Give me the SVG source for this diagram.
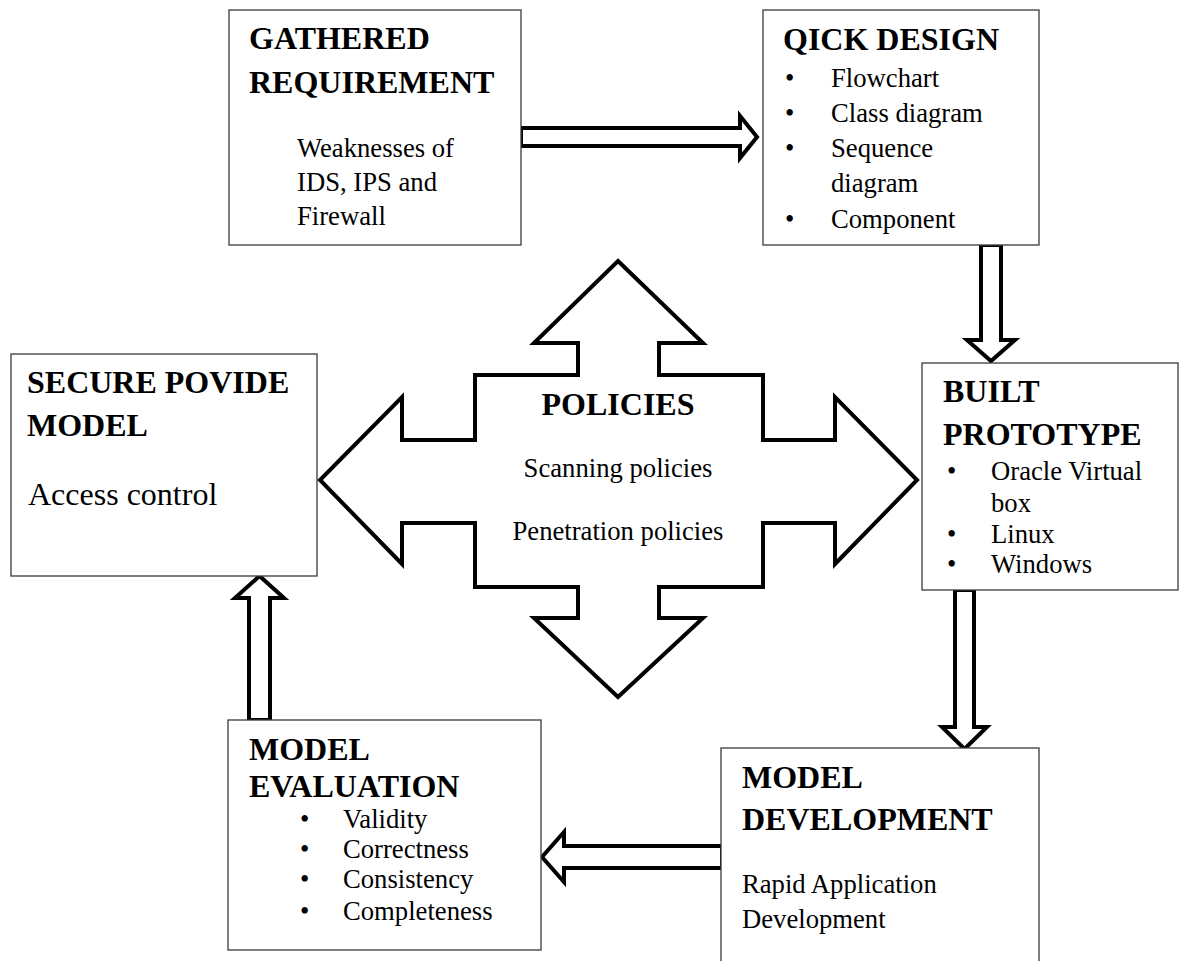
<svg xmlns="http://www.w3.org/2000/svg" width="1184" height="961" viewBox="0 0 1184 961">
<style>
.box{fill:#fff;stroke:#3a3a3a;stroke-width:1.3}
.arr{fill:#fff;stroke:#000;stroke-width:4;stroke-linejoin:miter;stroke-miterlimit:10}
.h{font-family:"Liberation Serif","Times New Roman",serif;font-weight:bold;font-size:32px;fill:#000}
.t{font-family:"Liberation Serif","Times New Roman",serif;font-size:26.67px;fill:#000}
.tl{font-family:"Liberation Serif","Times New Roman",serif;font-size:32px;fill:#000}
.c{text-anchor:middle}
</style>
<rect width="1184" height="961" fill="#fff"/>
<g id="connectors">
<polygon class="arr" points="521,128 740,128 740,116 757,137 740,158 740,146 521,146"/>
<polygon class="arr" points="981,245 1001,245 1001,340 1015,340 991,361 967,340 981,340"/>
<polygon class="arr" points="955,590 974,590 974,727 987,727 964.5,749 942,727 955,727"/>
<polygon class="arr" points="722,846 564,846 564,832 542,857 564,882 564,868 722,868"/>
<polygon class="arr" points="249,720 249,598 235,598 259.5,576 284,598 270,598 270,720"/>
</g>
<g id="gathered">
<rect class="box" x="229" y="10" width="292" height="235"/>
<text class="h" x="249" y="49">GATHERED</text>
<text class="h" x="249" y="93">REQUIREMENT</text>
<text class="t" x="297" y="157">Weaknesses of</text>
<text class="t" x="297" y="191">IDS, IPS and</text>
<text class="t" x="297" y="225">Firewall</text>
</g>
<g id="qick">
<rect class="box" x="763" y="10" width="276" height="235"/>
<text class="h" x="783" y="50">QICK DESIGN</text>
<text class="t" x="785" y="87">•</text><text class="t" x="831" y="87">Flowchart</text>
<text class="t" x="785" y="122">•</text><text class="t" x="831" y="122">Class diagram</text>
<text class="t" x="785" y="157">•</text><text class="t" x="831" y="157">Sequence</text>
<text class="t" x="831" y="192">diagram</text>
<text class="t" x="785" y="228">•</text><text class="t" x="831" y="228">Component</text>
</g>
<g id="built">
<rect class="box" x="922" y="363" width="256" height="227"/>
<text class="h" x="943" y="402">BUILT</text>
<text class="h" x="943" y="445">PROTOTYPE</text>
<text class="t" x="947" y="480">•</text><text class="t" x="991" y="480">Oracle Virtual</text>
<text class="t" x="991" y="512">box</text>
<text class="t" x="947" y="543">•</text><text class="t" x="991" y="543">Linux</text>
<text class="t" x="947" y="573">•</text><text class="t" x="991" y="573">Windows</text>
</g>
<g id="secure">
<rect class="box" x="11" y="354" width="306" height="222"/>
<text class="h" x="27" y="393">SECURE POVIDE</text>
<text class="h" x="27" y="436">MODEL</text>
<text class="tl" x="28" y="505">Access control</text>
</g>
<g id="evaluation">
<rect class="box" x="228" y="720" width="313" height="230"/>
<text class="h" x="249" y="760">MODEL</text>
<text class="h" x="249" y="797">EVALUATION</text>
<text class="t" x="300" y="828">•</text><text class="t" x="343" y="828">Validity</text>
<text class="t" x="300" y="858">•</text><text class="t" x="343" y="858">Correctness</text>
<text class="t" x="300" y="888">•</text><text class="t" x="343" y="888">Consistency</text>
<text class="t" x="300" y="920">•</text><text class="t" x="343" y="920">Completeness</text>
</g>
<g id="development">
<rect class="box" x="721" y="748" width="318" height="230"/>
<text class="h" x="742" y="788">MODEL</text>
<text class="h" x="742" y="830">DEVELOPMENT</text>
<text class="t" x="742" y="893">Rapid Application</text>
<text class="t" x="742" y="928">Development</text>
</g>
<g id="policies">
<polygon class="arr" points="618,261 703,343 659,343 659,375 763,375 763,440 835,440 835,397 917,480 835,564 835,523 763,523 763,587 659,587 659,618 703,618 618,697 534,618 578,618 578,587 475,587 475,523 402,523 402,564 320,480 402,397 402,440 475,440 475,375 578,375 578,343 534,343"/>
<text class="h c" x="618" y="415">POLICIES</text>
<text class="t c" x="618" y="477">Scanning policies</text>
<text class="t c" x="618" y="540">Penetration policies</text>
</g>
</svg>
